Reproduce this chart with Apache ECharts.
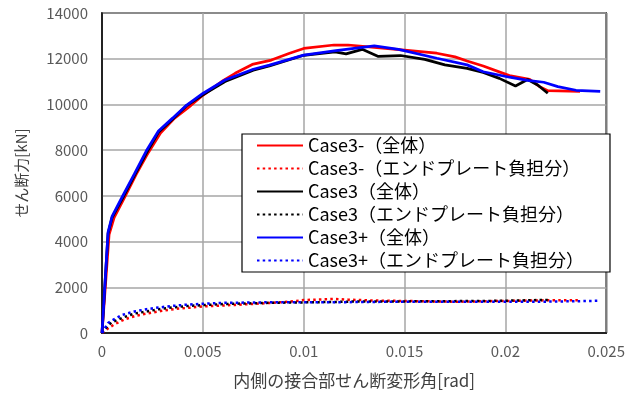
<!DOCTYPE html>
<html>
<head>
<meta charset="utf-8">
<script src="https://cdn.jsdelivr.net/npm/echarts@6/dist/echarts.min.js"></script>
<style>
  html, body { margin: 0; padding: 0; background: #fff; }
  #chart { width: 628px; height: 399px; }
</style>
</head>
<body>
<div id="chart"></div>
<script>
// Shear angle [rad] sample points and shear force [kN] for each case
const case3mX     = [0, 0.00035, 0.0006, 0.0011, 0.0017, 0.0023, 0.0029, 0.0036, 0.0044, 0.005, 0.006, 0.0066, 0.00745, 0.0084, 0.0093, 0.01, 0.0115, 0.0122, 0.0135, 0.015, 0.0166, 0.0175, 0.0181, 0.0189, 0.0202, 0.0212, 0.0217, 0.0221, 0.0237];
const case3mTotal = [0, 4300, 5050, 5900, 6950, 7900, 8750, 9400, 9950, 10400, 11040, 11360, 11750, 11940, 12240, 12450, 12600, 12600, 12500, 12380, 12240, 12080, 11900, 11680, 11260, 11100, 10780, 10600, 10570];
const case3mEnd   = [0, 230, 370, 590, 760, 865, 960, 1050, 1110, 1160, 1205, 1230, 1270, 1320, 1370, 1440, 1490, 1460, 1420, 1400, 1380, 1370, 1375, 1390, 1405, 1420, 1425, 1430, 1430];

const case3X      = [0, 0.0003, 0.0005, 0.00105, 0.0016, 0.00225, 0.0028, 0.0035, 0.0042, 0.005, 0.0061, 0.0075, 0.0083, 0.01, 0.01155, 0.0121, 0.0129, 0.0137, 0.0148, 0.016, 0.017, 0.0181, 0.0189, 0.0197, 0.0205, 0.0211, 0.0216, 0.0221];
const case3Total  = [0, 4350, 5050, 5950, 6880, 7950, 8780, 9350, 9950, 10420, 11000, 11500, 11680, 12150, 12300, 12210, 12410, 12100, 12140, 11970, 11730, 11580, 11400, 11140, 10810, 11090, 10850, 10490];
const case3End    = [0, 330, 470, 680, 850, 950, 1040, 1120, 1180, 1220, 1270, 1300, 1320, 1340, 1360, 1370, 1380, 1380, 1380, 1390, 1390, 1400, 1400, 1410, 1420, 1430, 1440, 1440];

const case3pX     = [0, 0.0003, 0.0005, 0.001, 0.0016, 0.0022, 0.0028, 0.0035, 0.0042, 0.005, 0.0061, 0.0075, 0.0083, 0.01, 0.0116, 0.0135, 0.0147, 0.0166, 0.0181, 0.0189, 0.0202, 0.0211, 0.0219, 0.0226, 0.0235, 0.0247];
const case3pTotal = [0, 4400, 5100, 5950, 6950, 7970, 8840, 9400, 9970, 10480, 11070, 11540, 11720, 12160, 12350, 12560, 12410, 12020, 11730, 11430, 11190, 11050, 10970, 10780, 10620, 10570];
const case3pEnd   = [0, 440, 550, 790, 940, 1040, 1115, 1185, 1240, 1280, 1320, 1335, 1345, 1350, 1345, 1360, 1370, 1370, 1370, 1370, 1370, 1370, 1370, 1380, 1390, 1410];

const seriesNames = [
  'Case3-（全体）', 'Case3-（エンドプレート負担分）',
  'Case3（全体）', 'Case3（エンドプレート負担分）',
  'Case3+（全体）', 'Case3+（エンドプレート負担分）'
];

const xTicks = [0, 0.005, 0.01, 0.015, 0.02, 0.025];
const yTicks = [0, 2000, 4000, 6000, 8000, 10000, 12000, 14000];

const FONT = '"Noto Sans CJK JP", "Noto Sans", sans-serif';

function pairs(xs, ys) {
  return xs.map((x, i) => [x, ys[i]]);
}

function solid(name, color, xs, ys) {
  return {
    name, type: 'line', data: pairs(xs, ys),
    symbol: 'none', smooth: false,
    lineStyle: { color, width: 2.75 },
    itemStyle: { color }
  };
}

function dotted(name, color, xs, ys) {
  return {
    name, type: 'line', data: pairs(xs, ys),
    symbol: 'none', smooth: false,
    lineStyle: { color, width: 2.5, type: [2.5, 3.2] },
    itemStyle: { color }
  };
}

const chart = echarts.init(document.getElementById('chart'), null, { renderer: 'canvas' });

chart.setOption({
  animation: false,
  backgroundColor: '#fff',
  textStyle: { fontFamily: FONT },
  grid: {
    left: 102, right: 18, top: 13, bottom: 66,
    show: true, borderColor: '#000', borderWidth: 1.5, backgroundColor: 'transparent'
  },
  legend: {
    orient: 'vertical',
    left: 242, top: 134,
    itemWidth: 46, itemHeight: 14, itemGap: 0,
    padding: [0, 26, 0, 14],
    backgroundColor: '#fff',
    borderColor: '#000', borderWidth: 1.2,
    // legend keys show the line only, no marker
    itemStyle: { opacity: 0 },
    textStyle: { fontFamily: FONT, fontSize: 18, color: '#000', lineHeight: 23 },
    data: seriesNames
  },
  xAxis: {
    type: 'value',
    min: xTicks[0], max: xTicks[xTicks.length - 1], interval: xTicks[1] - xTicks[0],
    name: '内側の接合部せん断変形角[rad]',
    nameLocation: 'middle', nameGap: 39,
    nameTextStyle: { fontFamily: FONT, fontSize: 17, color: '#404040' },
    axisLine: { show: true, lineStyle: { color: '#000', width: 1.5 } },
    axisTick: { show: false },
    axisLabel: { fontFamily: FONT, fontSize: 15, color: '#595959', margin: 11,
      formatter: v => String(v) },
    splitLine: { show: true, lineStyle: { color: '#a6a6a6', width: 1.5 } }
  },
  yAxis: {
    type: 'value',
    min: yTicks[0], max: yTicks[yTicks.length - 1], interval: yTicks[1] - yTicks[0],
    name: 'せん断力[kN]',
    nameLocation: 'middle', nameGap: 73,
    nameTextStyle: { fontFamily: FONT, fontSize: 15, color: '#404040' },
    axisLine: { show: true, lineStyle: { color: '#000', width: 1.5 } },
    axisTick: { show: false },
    axisLabel: { fontFamily: FONT, fontSize: 15, color: '#595959', margin: 14,
      formatter: v => String(v) },
    splitLine: { show: true, lineStyle: { color: '#a6a6a6', width: 1.5 } }
  },
  series: [
    solid(seriesNames[0], '#ff0000', case3mX, case3mTotal),
    dotted(seriesNames[1], '#ff0000', case3mX, case3mEnd),
    solid(seriesNames[2], '#000000', case3X, case3Total),
    dotted(seriesNames[3], '#000000', case3X, case3End),
    solid(seriesNames[4], '#0000ff', case3pX, case3pTotal),
    dotted(seriesNames[5], '#0000ff', case3pX, case3pEnd)
  ]
});
</script>
</body>
</html>
